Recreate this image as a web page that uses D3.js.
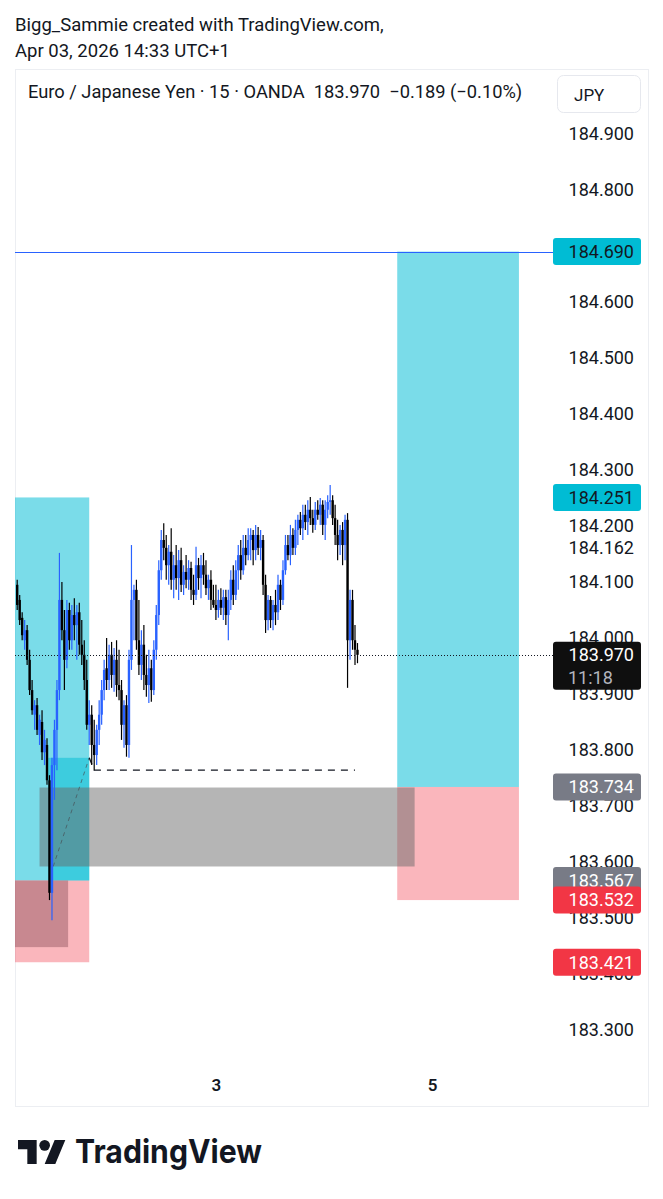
<!DOCTYPE html>
<html>
<head>
<meta charset="utf-8">
<script src="https://cdn.jsdelivr.net/npm/d3@7"></script>
<style>
  html, body { margin: 0; padding: 0; background: #ffffff; }
  svg { display: block; font-family: Roboto, "Noto Sans", sans-serif; }
</style>
</head>
<body>
<svg id="chart" width="663" height="1199"></svg>
<script>
// EUR/JPY, 15-minute bars (bar index 0 = first visible bar)
const opens = [
  184.095,184.068,184.036,183.996,184.014,183.961,183.907,183.863,183.880,183.827,
  183.850,183.796,183.809,183.746,183.545,183.773,183.836,183.907,184.068,184.014,
  183.961,184.050,183.996,184.041,184.023,184.046,183.988,183.970,183.925,183.845,
  183.863,183.809,183.791,183.836,183.863,183.907,183.946,183.925,183.970,183.934,
  183.961,183.916,183.907,183.845,183.880,183.809,183.961,184.068,184.086,183.996,
  183.952,183.988,183.934,183.916,183.946,183.907,183.979,184.041,184.121,184.175,
  184.161,184.130,184.154,184.104,184.130,184.107,184.139,184.095,184.118,184.104,
  184.125,184.086,184.077,184.130,184.107,184.130,184.113,184.089,184.104,184.068,
  184.059,184.050,184.068,184.054,184.073,184.041,184.068,184.104,184.077,184.121,
  184.148,184.121,184.161,184.148,184.175,184.184,184.157,184.184,184.161,184.175,
  184.095,184.032,184.068,184.032,184.059,184.046,184.095,184.068,184.121,184.166,
  184.148,184.184,184.161,184.193,184.211,184.196,184.220,184.207,184.229,184.214,
  184.202,184.229,184.220,184.238,184.202,184.229,184.243,184.246,184.214,184.184,
  184.166,184.193,184.166,184.211,183.996,184.068,183.996,183.979
];
const highs = [
  184.104,184.077,184.046,184.032,184.023,183.979,183.925,183.889,183.893,183.863,
  183.871,183.836,183.821,183.755,183.786,183.854,183.925,184.152,184.100,184.050,
  184.068,184.063,184.059,184.071,184.059,184.063,184.032,183.996,183.961,183.889,
  183.880,183.854,183.845,183.889,183.925,183.961,184.000,183.988,183.993,183.982,
  183.996,183.979,183.925,183.889,183.898,183.979,184.166,184.095,184.104,184.068,
  184.014,184.023,183.970,183.979,183.961,183.996,184.059,184.139,184.193,184.205,
  184.184,184.166,184.196,184.148,184.166,184.157,184.161,184.130,184.148,184.139,
  184.136,184.113,184.163,184.143,184.148,184.152,184.139,184.113,184.121,184.095,
  184.095,184.086,184.089,184.086,184.086,184.086,184.121,184.130,184.139,184.166,
  184.175,184.184,184.184,184.196,184.196,184.193,184.202,184.198,184.193,184.184,
  184.113,184.077,184.075,184.068,184.086,184.113,184.104,184.139,184.184,184.184,
  184.202,184.196,184.211,184.220,184.225,184.238,184.238,184.246,184.252,184.229,
  184.243,184.246,184.250,184.246,184.246,184.255,184.273,184.255,184.238,184.211,
  184.202,184.207,184.220,184.223,184.086,184.086,184.023,183.991
];
const lows = [
  184.050,184.023,183.996,183.979,183.952,183.898,183.863,183.836,183.827,183.809,
  183.782,183.773,183.738,183.532,183.496,183.711,183.764,183.889,183.996,183.907,
  183.946,183.979,183.979,183.996,183.961,183.970,183.952,183.907,183.836,183.809,
  183.773,183.764,183.773,183.809,183.845,183.889,183.907,183.907,183.911,183.904,
  183.895,183.889,183.818,183.804,183.788,183.786,183.943,183.996,183.979,183.934,
  183.925,183.907,183.895,183.884,183.886,183.898,183.961,184.023,184.104,184.139,
  184.104,184.095,184.086,184.071,184.086,184.068,184.082,184.077,184.089,184.086,
  184.068,184.059,184.068,184.086,184.071,184.095,184.077,184.068,184.050,184.054,
  184.032,184.036,184.041,184.032,184.023,183.996,184.050,184.059,184.068,184.086,
  184.104,184.113,184.130,184.139,184.139,184.130,184.139,184.148,184.139,184.077,
  184.009,184.014,184.018,184.014,184.023,184.032,184.050,184.059,184.113,184.139,
  184.130,184.148,184.148,184.166,184.184,184.175,184.193,184.184,184.202,184.188,
  184.193,184.211,184.202,184.184,184.175,184.214,184.220,184.202,184.166,184.139,
  184.148,184.130,184.139,183.911,183.961,183.979,183.952,183.955
];
const closes = [
  184.059,184.032,184.005,184.014,183.961,183.907,183.871,183.880,183.836,183.854,
  183.796,183.818,183.746,183.545,183.773,183.836,183.907,184.068,184.014,183.961,
  184.050,183.996,184.041,184.023,184.046,183.988,183.970,183.925,183.845,183.863,
  183.809,183.791,183.836,183.863,183.907,183.943,183.925,183.970,183.934,183.961,
  183.916,183.907,183.845,183.880,183.809,183.961,184.068,184.086,183.996,183.952,
  183.988,183.934,183.916,183.946,183.907,183.979,184.041,184.121,184.175,184.161,
  184.130,184.154,184.104,184.130,184.107,184.139,184.095,184.118,184.104,184.125,
  184.086,184.077,184.130,184.107,184.130,184.113,184.089,184.104,184.068,184.059,
  184.050,184.068,184.054,184.073,184.041,184.068,184.104,184.077,184.121,184.148,
  184.121,184.161,184.148,184.175,184.184,184.157,184.184,184.161,184.175,184.095,
  184.032,184.068,184.032,184.059,184.046,184.095,184.068,184.121,184.166,184.148,
  184.184,184.161,184.193,184.211,184.196,184.220,184.207,184.229,184.214,184.202,
  184.229,184.220,184.238,184.202,184.229,184.243,184.246,184.214,184.184,184.166,
  184.193,184.166,184.211,183.996,184.068,183.996,183.979,183.970
];

// Price scale ticks (184.700 sits under the line badge) and time-scale day marks
const priceTicks = [183.3,183.4,183.5,183.6,183.7,183.8,183.9,184.0,184.1,184.2,184.3,184.4,184.5,184.6,184.8,184.9];
const dayTickBars = [80, 167];
const dayLabels = ["3", "5"];

// Drawings
const hLinePrice = 184.690;
const longPositions = [
  { startBar: -3, endBar: 29, target: 184.251, entry: 183.567, stop: 183.421 },
  { startBar: 153, endBar: 202, target: 184.690, entry: 183.734, stop: 183.532 }
];
// Shaded portion of the first position: bars & price reached on each side
const reachedProfit = { startBar: 12.5, endBar: 29, price: 183.786 };
const reachedLoss = { startBar: -3, endBar: 20.5, price: 183.448 };
const grayZone = { startBar: 9, endBar: 160, top: 183.733, bottom: 183.592 };
const swingPath = [[29, 183.786], [31, 183.764], [136, 183.764]];
const tradePath = [[14.5, 183.592], [29, 183.786]];
const plainLabel = 184.162;
const countdown = "11:18";

// Price-scale badges
const badgePrices = [184.690, 184.251, 183.734, 183.567, 183.532, 183.421];
const badgeKinds = ["target", "target", "entry", "entry", "stop", "stop"];

const title = "Bigg_Sammie created with TradingView.com,";
const subtitle = "Apr 03, 2026 14:33 UTC+1";
const legendText = "Euro / Japanese Yen · 15 · OANDA  183.970  −0.189 (−0.10%)";
const currency = "JPY";

// ---------- layout ----------
const pane = { left: 15, right: 648, top: 69, bottom: 1106 };
const plot = { left: 15, right: 553, top: 69, bottom: 1065 };

const y = d3.scaleLinear().domain([183.3, 184.9]).range([1030, 134]);
const x = d3.scaleLinear().domain([0, 167]).range([17.2, 432]);

const badgeStyle = {
  target: { fill: "#00bcd4", text: "#131722" },
  entry:  { fill: "#787b86", text: "#ffffff" },
  stop:   { fill: "#f23645", text: "#ffffff" }
};
const upColor = "#2962ff", downColor = "#000000";

const svg = d3.select("#chart");

svg.append("defs").append("clipPath").attr("id", "plotClip")
  .append("rect")
  .attr("x", plot.left).attr("y", plot.top)
  .attr("width", plot.right - plot.left).attr("height", plot.bottom - plot.top);

// header
svg.append("text").attr("x", 15).attr("y", 31)
  .attr("font-size", 18.5).attr("fill", "#131722").text(title);
svg.append("text").attr("x", 15).attr("y", 57)
  .attr("font-size", 18.5).attr("fill", "#131722").text(subtitle);

// pane frame
svg.append("rect")
  .attr("x", pane.left + 0.5).attr("y", pane.top + 0.5)
  .attr("width", pane.right - pane.left).attr("height", pane.bottom - pane.top)
  .attr("fill", "none").attr("stroke", "#eceef2");

const g = svg.append("g").attr("clip-path", "url(#plotClip)");

// positions
longPositions.forEach(p => {
  const x0 = x(p.startBar), x1 = x(p.endBar);
  g.append("rect").attr("x", x0).attr("width", x1 - x0)
    .attr("y", y(p.target)).attr("height", y(p.entry) - y(p.target))
    .attr("fill", "rgba(0,188,212,0.52)");
  g.append("rect").attr("x", x0).attr("width", x1 - x0)
    .attr("y", y(p.entry)).attr("height", y(p.stop) - y(p.entry))
    .attr("fill", "rgba(242,54,69,0.36)");
});
{
  const p = longPositions[0];
  g.append("rect")
    .attr("x", x(reachedProfit.startBar)).attr("width", x(reachedProfit.endBar) - x(reachedProfit.startBar))
    .attr("y", y(reachedProfit.price)).attr("height", y(p.entry) - y(reachedProfit.price))
    .attr("fill", "rgba(0,188,212,0.5)");
  g.append("rect")
    .attr("x", x(reachedLoss.startBar)).attr("width", x(reachedLoss.endBar) - x(reachedLoss.startBar))
    .attr("y", y(p.entry)).attr("height", y(reachedLoss.price) - y(p.entry))
    .attr("fill", "rgba(140,80,90,0.45)");
}

// gray zone rectangle
g.append("rect")
  .attr("x", x(grayZone.startBar)).attr("width", x(grayZone.endBar) - x(grayZone.startBar))
  .attr("y", y(grayZone.top)).attr("height", y(grayZone.bottom) - y(grayZone.top))
  .attr("fill", "rgba(105,105,105,0.49)");

const line = d3.line().x(d => x(d[0])).y(d => y(d[1]));
g.append("path").attr("d", line(tradePath))
  .attr("fill", "none").attr("stroke", "rgba(70,80,85,0.7)")
  .attr("stroke-width", 1).attr("stroke-dasharray", "4,4");
g.append("path").attr("d", line(swingPath))
  .attr("fill", "none").attr("stroke", "#131722")
  .attr("stroke-width", 1.3).attr("stroke-dasharray", "7,6");

// horizontal line
g.append("line")
  .attr("x1", plot.left).attr("x2", plot.right)
  .attr("y1", Math.round(y(hLinePrice)) + 0.5).attr("y2", Math.round(y(hLinePrice)) + 0.5)
  .attr("stroke", "#2962ff").attr("stroke-width", 1);

// candles
const bars = opens.map((o, i) => ({ i, o, h: highs[i], l: lows[i], c: closes[i] }));
const cg = g.append("g");
cg.selectAll("line.wick").data(bars).join("line")
  .attr("class", "wick")
  .attr("x1", d => x(d.i)).attr("x2", d => x(d.i))
  .attr("y1", d => y(d.h)).attr("y2", d => y(d.l))
  .attr("stroke", d => d.c >= d.o ? upColor : downColor)
  .attr("stroke-width", 1.2);
cg.selectAll("rect.body").data(bars).join("rect")
  .attr("class", "body")
  .attr("x", d => x(d.i) - 1.2).attr("width", 2.4)
  .attr("y", d => y(Math.max(d.o, d.c)))
  .attr("height", d => Math.max(1, Math.abs(y(d.o) - y(d.c))))
  .attr("fill", d => d.c >= d.o ? upColor : downColor);

// last price line
const last = closes[closes.length - 1];
g.append("line")
  .attr("x1", plot.left).attr("x2", plot.right)
  .attr("y1", Math.round(y(last)) + 0.5).attr("y2", Math.round(y(last)) + 0.5)
  .attr("stroke", "#131722").attr("stroke-width", 1).attr("stroke-dasharray", "1,2");

// legend
svg.append("text").attr("x", 28).attr("y", 98)
  .attr("font-size", 18.3).attr("fill", "#131722")
  .attr("xml:space", "preserve").style("white-space", "pre").text(legendText);
svg.append("rect").attr("x", 557.5).attr("y", 75.5).attr("width", 83).attr("height", 37)
  .attr("rx", 6).attr("fill", "#ffffff").attr("stroke", "#e6e8ee");
svg.append("text").attr("x", 574).attr("y", 101).attr("font-size", 17)
  .attr("fill", "#131722").text(currency);

// price axis
const axisRightEdge = 634;
const yAxis = d3.axisLeft(y).tickValues(priceTicks).tickFormat(d3.format(".3f"))
  .tickSize(0).tickPadding(0);
const ya = svg.append("g").attr("transform", `translate(${axisRightEdge},0)`).call(yAxis);
ya.select(".domain").remove();
ya.selectAll("text").attr("font-size", 18).attr("fill", "#131722")
  .attr("font-family", "Roboto, sans-serif");

svg.append("text").attr("x", axisRightEdge).attr("y", y(plainLabel)).attr("dy", "0.35em")
  .attr("text-anchor", "end").attr("font-size", 18).attr("fill", "#131722")
  .text(d3.format(".3f")(plainLabel));

// badges
const badgeX = 553, badgeW = 88, badgeH = 27;
badgePrices.forEach((v, i) => {
  const st = badgeStyle[badgeKinds[i]];
  const cy = y(v);
  svg.append("rect").attr("x", badgeX).attr("y", cy - badgeH / 2)
    .attr("width", badgeW).attr("height", badgeH).attr("rx", 3)
    .attr("fill", st.fill);
  svg.append("text").attr("x", axisRightEdge).attr("y", cy).attr("dy", "0.35em")
    .attr("text-anchor", "end").attr("font-size", 18).attr("fill", st.text)
    .text(d3.format(".3f")(v));
});

// last-price badge with countdown
{
  const cy = y(last);
  svg.append("rect").attr("x", badgeX).attr("y", cy - 13)
    .attr("width", badgeW).attr("height", 48).attr("rx", 3).attr("fill", "#0f0f0f");
  svg.append("text").attr("x", axisRightEdge).attr("y", cy).attr("dy", "0.35em")
    .attr("text-anchor", "end").attr("font-size", 18).attr("fill", "#ffffff")
    .text(d3.format(".3f")(last));
  svg.append("text").attr("x", 568).attr("y", cy + 23).attr("dy", "0.35em")
    .attr("font-size", 18).attr("fill", "#b2b5be").text(countdown);
}

// time axis
const xAxis = d3.axisBottom(x).tickValues(dayTickBars)
  .tickFormat((d, i) => dayLabels[i]).tickSize(0).tickPadding(0);
const xa = svg.append("g").attr("transform", "translate(0,1079)").call(xAxis);
xa.select(".domain").remove();
xa.selectAll("text").attr("font-size", 17).attr("font-weight", 600)
  .attr("fill", "#131722").attr("font-family", "Roboto, sans-serif");

// brand mark
const logo = svg.append("g").attr("transform", "translate(18,1134.7) scale(1.333)");
logo.append("path").attr("d", "M14 22H7V11H0V4h14v18zM28 22h-8l7.5-18h8L28 22z").attr("fill", "#131722");
logo.append("circle").attr("cx", 20).attr("cy", 8).attr("r", 4).attr("fill", "#131722");
svg.append("text").attr("x", 75).attr("y", 1163)
  .attr("font-family", "Inter, Roboto, sans-serif").attr("font-size", 33).attr("font-weight", 700)
  .attr("fill", "#131722").attr("textLength", 187).attr("lengthAdjust", "spacingAndGlyphs")
  .text("TradingView");
</script>
</body>
</html>
